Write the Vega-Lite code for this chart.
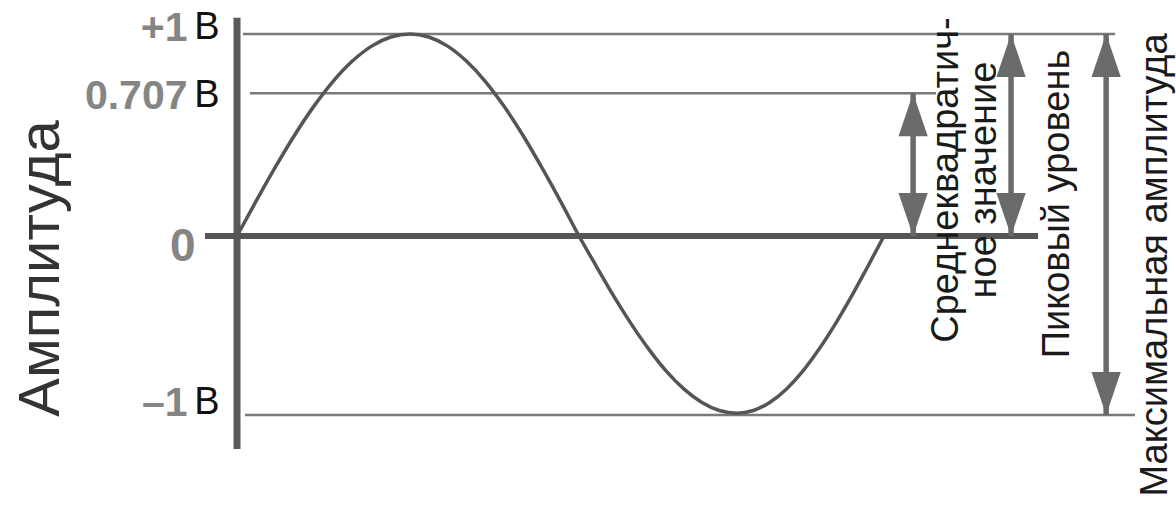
{
  "$schema": "https://vega.github.io/schema/vega-lite/v6.json",
  "width": 939,
  "height": 471,
  "autosize": "none",
  "padding": {"left": 237, "top": 34, "right": 0, "bottom": 0},
  "background": "white",
  "config": {"view": {"stroke": null}},
  "datasets": {
    "levels": [
      {"v": 1, "t": 3.3, "t2": 488.6, "unit": "В"},
      {"v": 0.707, "t": 7.2, "t2": 389, "unit": "В"},
      {"v": 0, "t": -17.8, "t2": 445.7, "unit": ""},
      {"v": -1, "t": 4.5, "t2": 499.7, "unit": "В"}
    ],
    "axisline": [{"t": 0, "v": 1.08, "v2": -1.19}],
    "wave": [
      {"t": 0, "v": 0}, {"t": 10.7, "v": 0.174}, {"t": 21.4, "v": 0.342}, {"t": 32.1, "v": 0.5},
      {"t": 42.8, "v": 0.643}, {"t": 53.5, "v": 0.766}, {"t": 64.2, "v": 0.866}, {"t": 74.9, "v": 0.94},
      {"t": 85.6, "v": 0.985}, {"t": 96.3, "v": 1},
      {"t": 106.7, "v": 0.985}, {"t": 117.2, "v": 0.94}, {"t": 127.6, "v": 0.866}, {"t": 138.1, "v": 0.766},
      {"t": 148.5, "v": 0.643}, {"t": 159.0, "v": 0.5}, {"t": 169.4, "v": 0.342}, {"t": 179.9, "v": 0.174},
      {"t": 190.3, "v": 0},
      {"t": 200.1, "v": -0.172}, {"t": 209.8, "v": -0.339}, {"t": 219.6, "v": -0.495}, {"t": 229.4, "v": -0.636},
      {"t": 239.1, "v": -0.758}, {"t": 248.9, "v": -0.857}, {"t": 258.7, "v": -0.93}, {"t": 268.4, "v": -0.975},
      {"t": 278.2, "v": -0.99},
      {"t": 287.3, "v": -0.975}, {"t": 296.4, "v": -0.93}, {"t": 305.5, "v": -0.857}, {"t": 314.6, "v": -0.758},
      {"t": 323.6, "v": -0.636}, {"t": 332.7, "v": -0.495}, {"t": 341.8, "v": -0.339}, {"t": 350.9, "v": -0.172},
      {"t": 360, "v": 0}
    ],
    "arrows": [
      {"name": "rms", "t": 376.2, "v": 0.707, "v2": 0},
      {"name": "peak", "t": 430.7, "v": 1, "v2": 0},
      {"name": "max", "t": 483.6, "v": 1, "v2": -1}
    ],
    "heads": [
      {"t": 376.2, "v": 0.707, "dir": "up"},
      {"t": 376.2, "v": 0, "dir": "down"},
      {"t": 430.7, "v": 1, "dir": "up"},
      {"t": 430.7, "v": 0, "dir": "down"},
      {"t": 483.6, "v": 1, "dir": "up"},
      {"t": 483.6, "v": -1, "dir": "down"}
    ],
    "notes": [
      {"t": 395, "v": 0.277, "text": "Среднеквадратич-\nное значение"},
      {"t": 456.6, "v": 0.158, "text": "Пиковый уровень"},
      {"t": 511.6, "v": -0.162, "text": "Максимальная амплитуда"}
    ]
  },
  "encoding": {
    "x": {"field": "t", "type": "quantitative", "scale": {"domain": [0, 360], "range": [0, 647], "nice": false, "zero": false}, "axis": null},
    "y": {
      "field": "v", "type": "quantitative",
      "scale": {"domain": [-1, 0, 1], "range": [381, 202, 0], "nice": false, "zero": false},
      "axis": {
        "values": [-1, 0, 0.707, 1],
        "labelExpr": "datum.value === 1 ? '+1' : datum.value === -1 ? '–1' : datum.value === 0 ? '0' : '0.707'",
        "domain": false, "ticks": false, "grid": false,
        "labelFont": "Liberation Sans", "labelFontWeight": "bold", "labelColor": "#858585",
        "labelFontSize": {"condition": {"test": "datum.value === 0", "value": 46}, "value": 41},
        "labelPadding": {"condition": {"test": "datum.value === 0", "value": 42}, "value": 50},
        "labelOffset": {"condition": [{"test": "datum.value === 0", "value": 10}, {"test": "datum.value === 1", "value": -6}, {"test": "datum.value === -1", "value": -12}], "value": 3},
        "labelAlign": "right", "labelBaseline": "middle", "labelOverlap": false, "labelFlush": false, "labelBound": false,
        "title": "Амплитуда", "titleFont": "Liberation Sans", "titleFontSize": 58, "titleFontWeight": "normal",
        "titleColor": "#333333", "titleAngle": 270, "titleAlign": "center", "titleBaseline": "middle",
        "titleX": -196, "titleY": 234
      }
    }
  },
  "layer": [
    {
      "data": {"name": "levels"},
      "transform": [{"filter": "datum.v !== 0"}],
      "mark": {"type": "rule", "color": "#7a7a7a", "strokeWidth": 2.5},
      "encoding": {"x2": {"field": "t2"}}
    },
    {
      "data": {"name": "axisline"},
      "mark": {"type": "rule", "color": "#5a5a5a", "strokeWidth": 7},
      "encoding": {"y2": {"field": "v2"}}
    },
    {
      "data": {"name": "levels"},
      "transform": [{"filter": "datum.v === 0"}],
      "mark": {"type": "rule", "color": "#555555", "strokeWidth": 6},
      "encoding": {"x2": {"field": "t2"}}
    },
    {
      "data": {"name": "wave"},
      "mark": {"type": "line", "interpolate": "monotone", "color": "#555555", "strokeWidth": 3.5, "strokeCap": "round"},
      "encoding": {}
    },
    {
      "data": {"name": "arrows"},
      "mark": {"type": "rule", "color": "#6a6a6a", "strokeWidth": 5.5},
      "encoding": {"y2": {"field": "v2"}}
    },
    {
      "data": {"name": "heads"},
      "mark": {"type": "point", "filled": true, "color": "#6a6a6a", "opacity": 1, "size": 1850},
      "encoding": {
        "shape": {
          "field": "dir", "type": "nominal", "legend": null,
          "scale": {"domain": ["up", "down"], "range": ["M-0.68,2L0,0L0.68,2Z", "M-0.68,-2L0,0L0.68,-2Z"]}
        }
      }
    },
    {
      "data": {"name": "notes"},
      "mark": {"type": "text", "angle": 270, "align": "center", "baseline": "middle", "lineBreak": "\n", "lineHeight": 38,
               "font": "Liberation Sans", "fontSize": 38, "color": "#1a1a1a"},
      "encoding": {"text": {"field": "text"}}
    },
    {
      "data": {"name": "levels"},
      "transform": [{"filter": "datum.unit !== ''"}],
      "mark": {"type": "text", "align": "center", "baseline": "middle", "dx": -30,
               "dy": {"expr": "datum.v === 1 ? -6 : datum.v === -1 ? -12 : 3"},
               "font": "Liberation Sans", "fontSize": 38, "color": "#111111"},
      "encoding": {"x": {"datum": 0}, "text": {"field": "unit"}}
    }
  ]
}
